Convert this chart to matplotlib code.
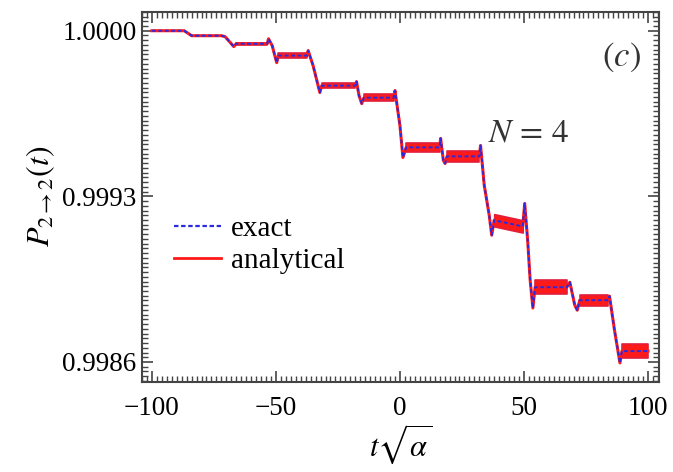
import numpy as np
import matplotlib.pyplot as plt
from matplotlib.lines import Line2D

plt.rcParams['font.family'] = ['Liberation Serif', 'DejaVu Serif']
plt.rcParams['mathtext.fontset'] = 'stix'

# mean trace of P_{2->2}(t)
t_key = [-100, -87, -84, -72, -70.5, -67, -66, -53.5, -53, -51.5, -49.7, -49,
         -37.5, -37, -35, -32.3, -31.5, -18, -17.5, -16.5, -15.4, -14.5,
         -2.5, -2, 0, 1.2, 2.5, 16, 16.4, 17.5, 18.2, 19, 32, 32.5, 34, 36,
         37, 38, 49.5, 50.3, 51.5, 52.5, 53.6, 54.5, 67.3, 68.5, 70.5, 71.5,
         72.5, 84, 84.5, 86.5, 88.7, 89.5, 100]
p_key = [1.000000, 1.000000, 0.999979, 0.999979, 0.999975, 0.999933,
         0.999945, 0.999945, 0.999966, 0.999937, 0.999865, 0.999895,
         0.999895, 0.999916, 0.999852, 0.999739, 0.999768, 0.999768,
         0.999785, 0.999726, 0.999692, 0.999717, 0.999717, 0.999747,
         0.999599, 0.999464, 0.999507, 0.999507, 0.999545, 0.999452,
         0.999439, 0.999469, 0.999469, 0.999515, 0.999346, 0.999220,
         0.999136, 0.999199, 0.999173, 0.999270, 0.999114, 0.998946,
         0.998828, 0.998916, 0.998916, 0.998937, 0.998840, 0.998819,
         0.998861, 0.998861, 0.998878, 0.998735, 0.998596, 0.998646,
         0.998646]

# plateaus where the fast oscillation fills a band: start, end, half width
band_start = [-66, -49, -31.5, -14.5, 2.5, 19, 38, 54.5, 72.5, 89.5]
band_end = [-53.5, -37.5, -18, -2.5, 16, 32, 49.5, 67.3, 84, 100]
band_half = [5e-6, 0.9e-5, 1.2e-5, 1.4e-5, 2.0e-5, 2.2e-5, 2.6e-5, 2.9e-5,
             2.4e-5, 2.9e-5]

red = '#ff1a1a'
blue = '#2a2ae0'

fig, ax = plt.subplots(figsize=(6.73, 4.72), dpi=100)
fig.subplots_adjust(left=0.211, right=0.979, top=0.975, bottom=0.191)

tk = np.array(t_key)
pk = np.array(p_key)
for t0, t1, h in zip(band_start, band_end, band_half):
    m = (tk >= t0) & (tk <= t1)
    ax.fill_between(tk[m], pk[m] - h, pk[m] + h, color=red, lw=1.2,
                    edgecolor='#e0203c', zorder=2)

ax.plot(t_key, p_key, color=red, lw=2.2, zorder=3)
ax.plot(t_key, p_key, color=blue, lw=1.4, ls=(0, (2, 1.3)), zorder=4)

ax.set_xlim(-104, 104.4)
ax.set_ylim(0.998516, 1.000076)
ax.set_xticks([-100, -50, 0, 50, 100])
ax.set_xticklabels(['\u2212100', '\u221250', '0', '50', '100'])
ax.set_yticks([0.9986, 0.9993, 1.0])
ax.set_yticklabels(['0.9986', '0.9993', '1.0000'])
ax.set_xticks(np.arange(-104, 105, 2), minor=True)
ax.set_yticks(np.arange(0.99852, 1.00008, 0.00002), minor=True)

ax.tick_params(which='both', direction='in', top=True, right=True,
               colors='#444444', labelcolor='black', labelsize=19.5)
ax.tick_params(which='major', length=8, width=1.2)
ax.tick_params(which='minor', length=4, width=1.0)
ax.tick_params(axis='x', pad=10)
ax.tick_params(axis='y', pad=4)
for s in ax.spines.values():
    s.set_color('#444444')
    s.set_linewidth(1.5)

ax.set_xlabel(r'$t\sqrt{\alpha}$', fontsize=22, labelpad=1)
ax.set_ylabel(r'$P_{2\to2}(t)$', fontsize=23, labelpad=4)

ax.text(52, 0.999566, r'$N\,=\,4$', fontsize=24, ha='center', va='center', color='#333333')
ax.text(0.928, 0.878, r'$(c)$', transform=ax.transAxes, fontsize=25,
        ha='center', va='center', color='#333333')

handles = [Line2D([], [], color=blue, lw=1.6, ls=(0, (2, 1.2))),
           Line2D([], [], color=red, lw=2.0)]
ax.legend(handles, ['exact', 'analytical'], loc='center left',
          bbox_to_anchor=(0.062, 0.37), frameon=False, fontsize=21,
          handlelength=1.6, handletextpad=0.35, labelspacing=0.2,
          borderpad=0, borderaxespad=0)

fig.savefig('out.png', dpi=100)
